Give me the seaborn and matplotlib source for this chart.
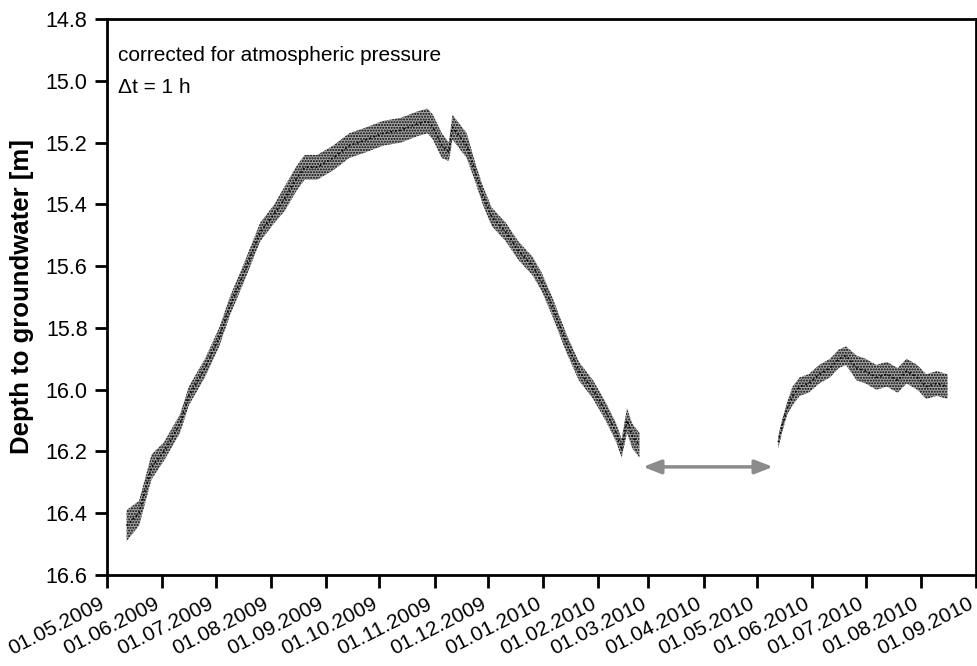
import matplotlib
matplotlib.use("Agg")
import matplotlib.pyplot as plt
import matplotlib.transforms as mtransforms
import numpy as np
import pandas as pd
import seaborn as sns

# ---- data (hourly record summarised: centre and half-spread) ----
seg1_dates = ["2009-05-12", "2009-05-19", "2009-05-26", "2009-06-02", "2009-06-11", "2009-06-16",
              "2009-06-25", "2009-07-03", "2009-07-09", "2009-07-17", "2009-07-26", "2009-08-03",
              "2009-08-09", "2009-08-15", "2009-08-20", "2009-08-27", "2009-09-05", "2009-09-14",
              "2009-09-24", "2009-10-03", "2009-10-13", "2009-10-22", "2009-10-28", "2009-10-31",
              "2009-11-05", "2009-11-09", "2009-11-11", "2009-11-19", "2009-11-24", "2009-11-28",
              "2009-12-03", "2009-12-11", "2009-12-18", "2009-12-26", "2009-12-31", "2010-01-06",
              "2010-01-14", "2010-01-21", "2010-01-29", "2010-02-05", "2010-02-11", "2010-02-14",
              "2010-02-17", "2010-02-20", "2010-02-24"]
seg1_depth = [16.44, 16.40, 16.25, 16.20, 16.11, 16.02,
              15.93, 15.83, 15.73, 15.62, 15.49, 15.43,
              15.38, 15.32, 15.28, 15.28, 15.25, 15.21,
              15.19, 15.17, 15.16, 15.14, 15.13, 15.15,
              15.21, 15.23, 15.15, 15.21, 15.30, 15.37,
              15.44, 15.49, 15.55, 15.60, 15.65, 15.73,
              15.85, 15.94, 16.00, 16.07, 16.14, 16.19,
              16.10, 16.15, 16.18]
seg1_spread = [0.05, 0.04, 0.04, 0.03, 0.03, 0.03,
               0.03, 0.03, 0.03, 0.03, 0.03, 0.03,
               0.04, 0.04, 0.04, 0.04, 0.04, 0.04,
               0.04, 0.04, 0.04, 0.04, 0.04, 0.04,
               0.04, 0.03, 0.04, 0.04, 0.03, 0.03,
               0.03, 0.03, 0.03, 0.03, 0.03, 0.03,
               0.03, 0.03, 0.03, 0.03, 0.03, 0.03,
               0.04, 0.04, 0.04]

seg2_dates = ["2010-05-13", "2010-05-15", "2010-05-18", "2010-05-21", "2010-05-25", "2010-05-30",
              "2010-06-05", "2010-06-11", "2010-06-16", "2010-06-20", "2010-06-26", "2010-07-01",
              "2010-07-07", "2010-07-13", "2010-07-19", "2010-07-24", "2010-07-30", "2010-08-04",
              "2010-08-10", "2010-08-16"]
seg2_depth = [16.17, 16.12, 16.06, 16.02, 15.99, 15.98,
              15.95, 15.93, 15.90, 15.89, 15.93, 15.94,
              15.96, 15.95, 15.97, 15.94, 15.96, 15.99,
              15.98, 15.99]
seg2_spread = [0.02, 0.02, 0.02, 0.03, 0.03, 0.03,
               0.03, 0.03, 0.03, 0.03, 0.04, 0.04,
               0.04, 0.04, 0.04, 0.04, 0.04, 0.04,
               0.04, 0.04]

gap_start, gap_end, gap_depth = "2010-02-26", "2010-05-10", 16.25

tick_dates = ["2009-05-01", "2009-06-01", "2009-07-01", "2009-08-01", "2009-09-01", "2009-10-01",
              "2009-11-01", "2009-12-01", "2010-01-01", "2010-02-01", "2010-03-01", "2010-04-01",
              "2010-05-01", "2010-06-01", "2010-07-01", "2010-08-01", "2010-09-01"]
y_ticks = [14.8, 15.0, 15.2, 15.4, 15.6, 15.8, 16.0, 16.2, 16.4, 16.6]

# ---- build tables ----
df1 = pd.DataFrame({"date": pd.to_datetime(seg1_dates), "depth": seg1_depth, "spread": seg1_spread, "seg": "a"})
df2 = pd.DataFrame({"date": pd.to_datetime(seg2_dates), "depth": seg2_depth, "spread": seg2_spread, "seg": "b"})
df = pd.concat([df1, df2], ignore_index=True)

sns.set_theme(style="ticks")
plt.rcParams["font.family"] = ["Liberation Sans", "DejaVu Sans"]
plt.rcParams["text.color"] = "black"
plt.rcParams["axes.labelcolor"] = "black"

fig = plt.figure(figsize=(9.77, 6.66), dpi=100)
ax = fig.add_axes([107 / 977, 1 - 575 / 666, (976 - 107) / 977, (575 - 19) / 666])

for seg, d in df.groupby("seg"):
    ax.fill_between(d["date"], d["depth"] - d["spread"], d["depth"] + d["spread"],
                    facecolor="#a6a6a6", edgecolor="black", hatch="......", linewidth=0, zorder=2)
    sns.lineplot(data=d, x="date", y="depth", ax=ax, color="black", linewidth=1.2,
                 linestyle=":", zorder=3, legend=False)

ax.annotate("", xy=(pd.Timestamp(gap_start), gap_depth), xytext=(pd.Timestamp(gap_end), gap_depth),
            arrowprops=dict(arrowstyle="<|-|>,head_length=0.9,head_width=0.35", color="#8c8c8c", lw=2.5,
                            shrinkA=0, shrinkB=0))

ax.set_xlim(pd.Timestamp(tick_dates[0]), pd.Timestamp(tick_dates[-1]))
ax.set_ylim(16.6, 14.8)
ax.set_yticks(y_ticks)
ax.set_yticklabels([f"{v:.1f}" for v in y_ticks], fontsize=15.5)
ax.set_xticks(pd.to_datetime(tick_dates))
ax.set_xticklabels([pd.Timestamp(t).strftime("%d.%m.%Y") for t in tick_dates],
                   rotation=27, ha="right", rotation_mode="anchor", fontsize=15)
ax.set_xlabel("")
ax.set_ylabel("Depth to groundwater [m]", fontsize=18.5, fontweight="bold", labelpad=8, color="black")

for s in ax.spines.values():
    s.set_linewidth(2)
    s.set_color("black")
ax.tick_params(axis="both", direction="out", length=9, width=2, color="black", labelcolor="black")
ax.tick_params(axis="x", pad=5)
ax.tick_params(axis="y", pad=5)

ax.text(0.013, 0.934, "corrected for atmospheric pressure", transform=ax.transAxes, fontsize=15,
        va="center", color="black")
ax.text(0.013, 0.876, "\u0394t = 1 h", transform=ax.transAxes, fontsize=15, va="center", color="black")

# shift rotated date labels slightly left so their ends sit at the ticks (as in the reference)
fig.canvas.draw()
shift = mtransforms.ScaledTranslation(-8 / 100, 0, fig.dpi_scale_trans)
for tick in ax.xaxis.get_major_ticks():
    tick.label1.set_transform(tick.label1.get_transform() + shift)

fig.savefig("out.png", dpi=100)
